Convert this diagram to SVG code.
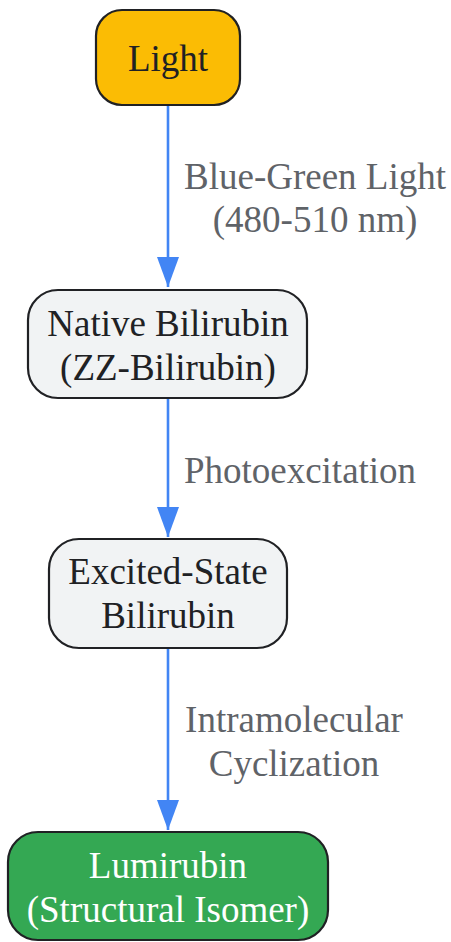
<svg xmlns="http://www.w3.org/2000/svg" width="451" height="942" viewBox="0 0 451 942">
<style>
.node rect{stroke:#202124;stroke-width:2.2}
text{font-family:"Liberation Serif","Times New Roman",serif;font-size:37px;text-anchor:middle}
.dark{fill:#202124}
.lbl{fill:#5f6368}
.edge{stroke:#4285F4;stroke-width:2.6;fill:none}
</style>
<defs>
<marker id="arr" markerUnits="userSpaceOnUse" markerWidth="30" markerHeight="22" refX="30" refY="11" orient="auto" viewBox="0 0 30 22">
<path d="M0,0 L30,11 L0,22 Z" fill="#4285F4"/>
</marker>
</defs>
<rect width="451" height="942" fill="#ffffff"/>
<g id="connectors">
<path class="edge" d="M168,106 V287" marker-end="url(#arr)"/>
<path class="edge" d="M168,399 V537" marker-end="url(#arr)"/>
<path class="edge" d="M168,649 V830" marker-end="url(#arr)"/>
<text class="lbl" x="315" y="189">Blue-Green Light</text>
<text class="lbl" x="315" y="232">(480-510 nm)</text>
<text class="lbl" x="300" y="483">Photoexcitation</text>
<text class="lbl" x="294" y="732">Intramolecular</text>
<text class="lbl" x="294" y="776">Cyclization</text>
</g>
<g id="light" class="node">
<rect x="96" y="10" width="144" height="95" rx="26" fill="#FBBC04"/>
<text class="dark" x="168" y="71">Light</text>
</g>
<g id="native" class="node">
<rect x="28" y="290" width="279" height="108" rx="30" fill="#F1F3F4"/>
<text class="dark" x="168" y="336">Native Bilirubin</text>
<text class="dark" x="168" y="380">(ZZ-Bilirubin)</text>
</g>
<g id="excited" class="node">
<rect x="49" y="539" width="238" height="109" rx="30" fill="#F1F3F4"/>
<text class="dark" x="168" y="584">Excited-State</text>
<text class="dark" x="168" y="628">Bilirubin</text>
</g>
<g id="lumirubin" class="node">
<rect x="8" y="832" width="320" height="108" rx="30" fill="#34A853"/>
<text fill="#ffffff" x="168" y="878">Lumirubin</text>
<text fill="#ffffff" x="168" y="922">(Structural Isomer)</text>
</g>
</svg>
